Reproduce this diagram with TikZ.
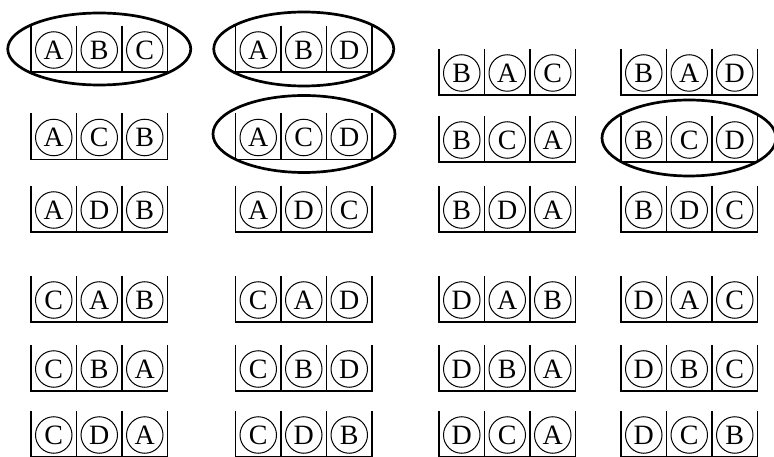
\documentclass[tikz,border=0pt]{standalone}
\usepackage{fontspec}
\setmainfont{Liberation Serif}
\usetikzlibrary{shapes.geometric}
\tikzset{
  wall/.style={line width=1.8pt},
  ball/.style={circle, draw, line width=1pt, inner sep=0pt, minimum size=36.5pt,
    font=\fontsize{28}{28}\selectfont},
  ring/.style={ellipse, draw, line width=2.7pt, inner sep=0pt},
}
\newcommand{\permbox}[6]{%
  \draw[wall] (#1,#2-46) -- (#1,#2) -- (#1+136.5,#2) -- (#1+136.5,#2-46);
  \draw[wall] (#1+45.5,#2-46) -- (#1+45.5,#2);
  \draw[wall] (#1+91,#2-46) -- (#1+91,#2);
  \node[ball] (#3a) at (#1+22.75,#2-22) {#4};
  \node[ball] (#3b) at (#1+68.25,#2-22) {#5};
  \node[ball] (#3c) at (#1+113.75,#2-22) {#6};
}
\begin{document}
\begin{tikzpicture}[x=1pt,y=-1pt]
\useasboundingbox (0,0) rectangle (774,457);
% row 1
\permbox{31}{72}{abc}{A}{B}{C}
\permbox{235.5}{72}{abd}{A}{B}{D}
\permbox{439}{95}{bac}{B}{A}{C}
\permbox{621}{95}{bad}{B}{A}{D}
% row 2
\permbox{31}{159.5}{acb}{A}{C}{B}
\permbox{235.5}{159.5}{acd}{A}{C}{D}
\permbox{439}{162}{bca}{B}{C}{A}
\permbox{621}{162}{bcd}{B}{C}{D}
% row 3
\permbox{31}{232}{adb}{A}{D}{B}
\permbox{235.5}{232}{adc}{A}{D}{C}
\permbox{439}{232}{bda}{B}{D}{A}
\permbox{621}{232}{bdc}{B}{D}{C}
% row 4
\permbox{31}{322}{cab}{C}{A}{B}
\permbox{235.5}{322}{cad}{C}{A}{D}
\permbox{439}{322}{dab}{D}{A}{B}
\permbox{621}{322}{dac}{D}{A}{C}
% row 5
\permbox{31}{391}{cba}{C}{B}{A}
\permbox{235.5}{391}{cbd}{C}{B}{D}
\permbox{439}{391}{dba}{D}{B}{A}
\permbox{621}{391}{dbc}{D}{B}{C}
% row 6
\permbox{31}{457}{cda}{C}{D}{A}
\permbox{235.5}{457}{cdb}{C}{D}{B}
\permbox{439}{457}{dca}{D}{C}{A}
\permbox{621}{457}{dcb}{D}{C}{B}
% ellipses
\node[ring, minimum width=183pt, minimum height=72pt] (e1) at (99.25,49) {};
\node[ring, minimum width=180pt, minimum height=74pt] (e2) at (303.75,49) {};
\node[ring, minimum width=182pt, minimum height=77pt] (e3) at (304,134) {};
\node[ring, minimum width=174pt, minimum height=76pt] (e4) at (689,138) {};
\end{tikzpicture}
\end{document}
